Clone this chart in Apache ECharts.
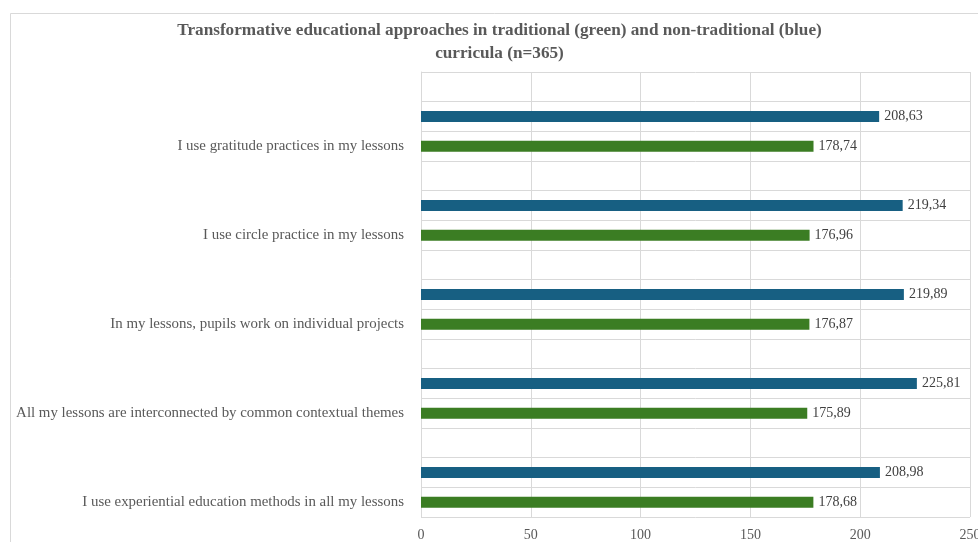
<!DOCTYPE html>
<html>
<head>
<meta charset="utf-8">
<script src="https://cdn.jsdelivr.net/npm/echarts@6/dist/echarts.min.js"></script>
<style>
  html, body { margin: 0; padding: 0; background: #fff; }
  #chart { width: 978px; height: 542px; }
</style>
</head>
<body>
<div id="chart"></div>
<script>
// Statements, listed top to bottom
const statements = [
  'I use gratitude practices in my lessons',
  'I use circle practice in my lessons',
  'In my lessons, pupils work on individual projects',
  'All my lessons are interconnected by common contextual themes',
  'I use experiential education methods in all my lessons'
];
// Mean ranks, non-traditional curricula (blue)
const nonTraditional = [208.63, 219.34, 219.89, 225.81, 208.98];
// Mean ranks, traditional curricula (green)
const traditional = [178.74, 176.96, 176.87, 175.89, 178.68];
// Value axis ticks
const xTicks = [0, 50, 100, 150, 200, 250];
const chartTitle = 'Transformative educational approaches in traditional (green) and non-traditional (blue)\ncurricula (n=365)';

// Each statement takes three rows: a spacer, the blue bar, the green bar
const rows = [];
const blueData = [];
const greenData = [];
statements.forEach((s, i) => {
  rows.push('s' + i, 'b' + i, 'g' + i);
  blueData.push('-', nonTraditional[i], '-');
  greenData.push('-', '-', traditional[i]);
});

const fmt = v => v.toFixed(2).replace('.', ',');
const serif = '"Liberation Serif", "DejaVu Serif", serif';

const chart = echarts.init(document.getElementById('chart'));
chart.setOption({
  animation: false,
  backgroundColor: '#ffffff',
  graphic: [
    {
      // outer frame
      type: 'rect',
      shape: { x: 10.5, y: 13.5, width: 1200, height: 800 },
      style: { fill: 'none', stroke: '#d9d9d9', lineWidth: 1 },
      silent: true
    },
    {
      // two-line title, centred over the chart frame
      type: 'text',
      x: 499.5,
      y: 19,
      silent: true,
      style: {
        text: chartTitle,
        align: 'center',
        verticalAlign: 'top',
        fontFamily: serif,
        fontWeight: 'bold',
        fontSize: 17.2,
        lineHeight: 23,
        fill: '#595959'
      }
    }
  ],
  grid: {
    left: 421, right: 8, top: 72, bottom: 25,
    containLabel: false,
    outerBoundsMode: 'none'
  },
  xAxis: {
    type: 'value',
    min: xTicks[0],
    max: xTicks[xTicks.length - 1],
    interval: xTicks[1] - xTicks[0],
    axisLine: { show: false },
    axisTick: { show: false },
    splitLine: { show: true, lineStyle: { color: '#d9d9d9', width: 1 } },
    axisLabel: {
      fontFamily: serif, fontSize: 14, color: '#595959', margin: 11,
      hideOverlap: false
    }
  },
  yAxis: {
    type: 'category',
    inverse: true,
    data: rows,
    axisLine: { show: true, lineStyle: { color: '#d9d9d9' } },
    axisTick: { show: false },
    splitLine: { show: true, interval: 0, lineStyle: { color: '#d9d9d9', width: 1 } },
    axisLabel: {
      interval: 0,
      fontFamily: serif, fontSize: 14.9, color: '#595959', margin: 17,
      formatter: v => v[0] === 'g' ? statements[+v.slice(1)] : ''
    }
  },
  series: [
    {
      name: 'non-traditional',
      type: 'bar',
      data: blueData,
      barWidth: 11,
      barGap: '-100%',
      itemStyle: { color: '#175f82' },
      label: {
        show: true, position: 'right', distance: 5,
        fontFamily: serif, fontSize: 14, color: '#404040',
        formatter: p => fmt(p.value)
      }
    },
    {
      name: 'traditional',
      type: 'bar',
      data: greenData,
      barWidth: 11,
      barGap: '-100%',
      itemStyle: { color: '#3b7d23' },
      label: {
        show: true, position: 'right', distance: 5,
        fontFamily: serif, fontSize: 14, color: '#404040',
        formatter: p => fmt(p.value)
      }
    }
  ]
});
</script>
</body>
</html>
